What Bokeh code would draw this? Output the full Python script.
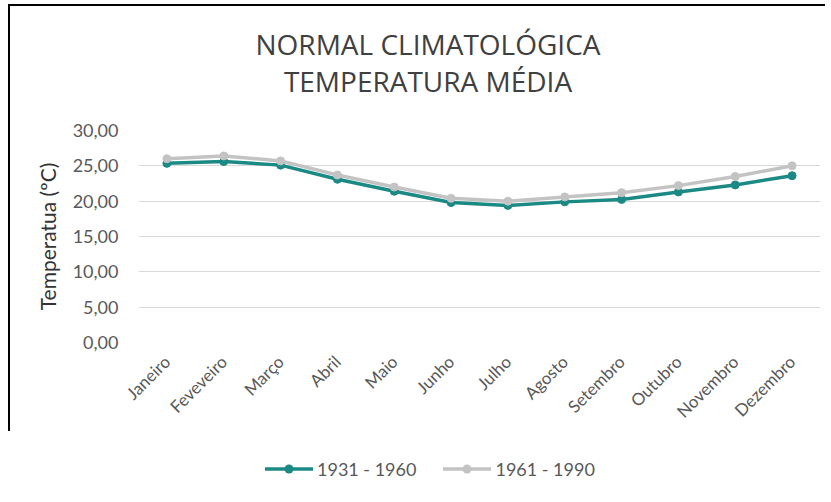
from bokeh.plotting import figure
from bokeh.layouts import column
from bokeh.models import Div, FixedTicker, Range1d, InlineStyleSheet
from bokeh.embed import file_html
from bokeh.resources import INLINE
from math import pi

months = ["Janeiro", "Feveveiro", "Março", "Abril", "Maio", "Junho", "Julho",
          "Agosto", "Setembro", "Outubro", "Novembro", "Dezembro"]
s1931 = [25.35, 25.6, 25.1, 23.1, 21.4, 19.8, 19.4, 19.9, 20.25, 21.3, 22.3, 23.6]
s1961 = [26.0, 26.4, 25.7, 23.7, 22.0, 20.4, 20.0, 20.6, 21.2, 22.2, 23.5, 25.0]
y_ticks = [0, 5, 10, 15, 20, 25, 30]
y_tick_labels = ["0,00", "5,00", "10,00", "15,00", "20,00", "25,00", "30,00"]
title_lines = ["NORMAL CLIMATOLÓGICA", "TEMPERATURA MÉDIA"]
label_1 = "1931 - 1960"
label_2 = "1961 - 1990"

FONT = "Lato"
GREY_TXT = "#595959"
teal = "#1b8a85"
grey = "#c3c3c3"


def legend_item(color, label, extra_style=""):
    return ("<span style=\"display:inline-flex;align-items:center;%s\">"
            "<svg width=\"48\" height=\"14\" style=\"display:block\">"
            "<line x1=\"0\" y1=\"7\" x2=\"48\" y2=\"7\" stroke=\"%s\" stroke-width=\"3.5\"/>"
            "<circle cx=\"24\" cy=\"7\" r=\"4.5\" fill=\"%s\"/></svg>"
            "<span style=\"margin-left:4px\">%s</span></span>") % (extra_style, color, color, label)


legend_html = ("<div style=\"position:absolute;top:458px;left:265px;height:22px;"
               "display:flex;align-items:center;white-space:nowrap;"
               "font-family:Lato;font-size:18px;line-height:22px;color:%s;\">%s%s</div>"
               % (GREY_TXT, legend_item(teal, label_1),
                  legend_item(grey, label_2, "margin-left:27px;")))

title_div = Div(
    text=("<div style=\"width:600px;margin-left:128px;margin-top:26px;text-align:center;"
          "font-family:'Open Sans';font-size:28px;line-height:37px;color:#404040;\">"
          + "<br>".join(title_lines) + "</div>" + legend_html),
    width=825, height=100, margin=0, styles={"overflow": "visible"})

p = figure(frame_width=682, frame_height=212, x_range=months, y_range=Range1d(0, 30),
           output_backend="svg", toolbar_location=None,
           min_border_left=138, min_border_right=5, min_border_top=30,
           min_border_bottom=0, margin=0)
p.title = None
p.outline_line_color = None
p.border_fill_color = None
p.background_fill_color = "white"

p.line(months, s1931, line_color=teal, line_width=3.5)
p.scatter(months, s1931, size=8, fill_color=teal, line_color=teal)
p.line(months, s1961, line_color=grey, line_width=3.5)
p.scatter(months, s1961, size=8, fill_color=grey, line_color=grey)

p.yaxis.ticker = FixedTicker(ticks=y_ticks)
p.yaxis.major_label_overrides = {t: l for t, l in zip(y_ticks, y_tick_labels)}
p.yaxis.axis_label = "Temperatua (ºC)"
for ax in (p.xaxis[0], p.yaxis[0]):
    ax.axis_line_color = None
    ax.major_tick_line_color = None
    ax.minor_tick_line_color = None
    ax.major_label_text_font = FONT
    ax.major_label_text_font_size = "17px"
    ax.major_label_text_color = GREY_TXT
    ax.axis_label_text_font = FONT
    ax.axis_label_text_font_size = "21px"
    ax.axis_label_text_font_style = "normal"
    ax.axis_label_text_color = "#333333"
p.yaxis.major_label_text_font_size = "18px"
p.yaxis.axis_label_standoff = 10
p.yaxis.major_label_standoff = 14
p.xaxis.major_label_orientation = pi / 4
p.xaxis.major_label_standoff = 10

p.xgrid.grid_line_color = None
p.ygrid.grid_line_color = "#d9d9d9"
p.ygrid.grid_line_width = 1.2

layout = column(title_div, p, spacing=0, margin=0)
layout.stylesheets = [InlineStyleSheet(css=(
    ":host { background: "
    "linear-gradient(#000,#000) 8px 4px / 900px 2px no-repeat, "
    "linear-gradient(#000,#000) 8px 4px / 2px 600px no-repeat, white; }"))]

open("out.html", "w").write(file_html(layout, INLINE))
